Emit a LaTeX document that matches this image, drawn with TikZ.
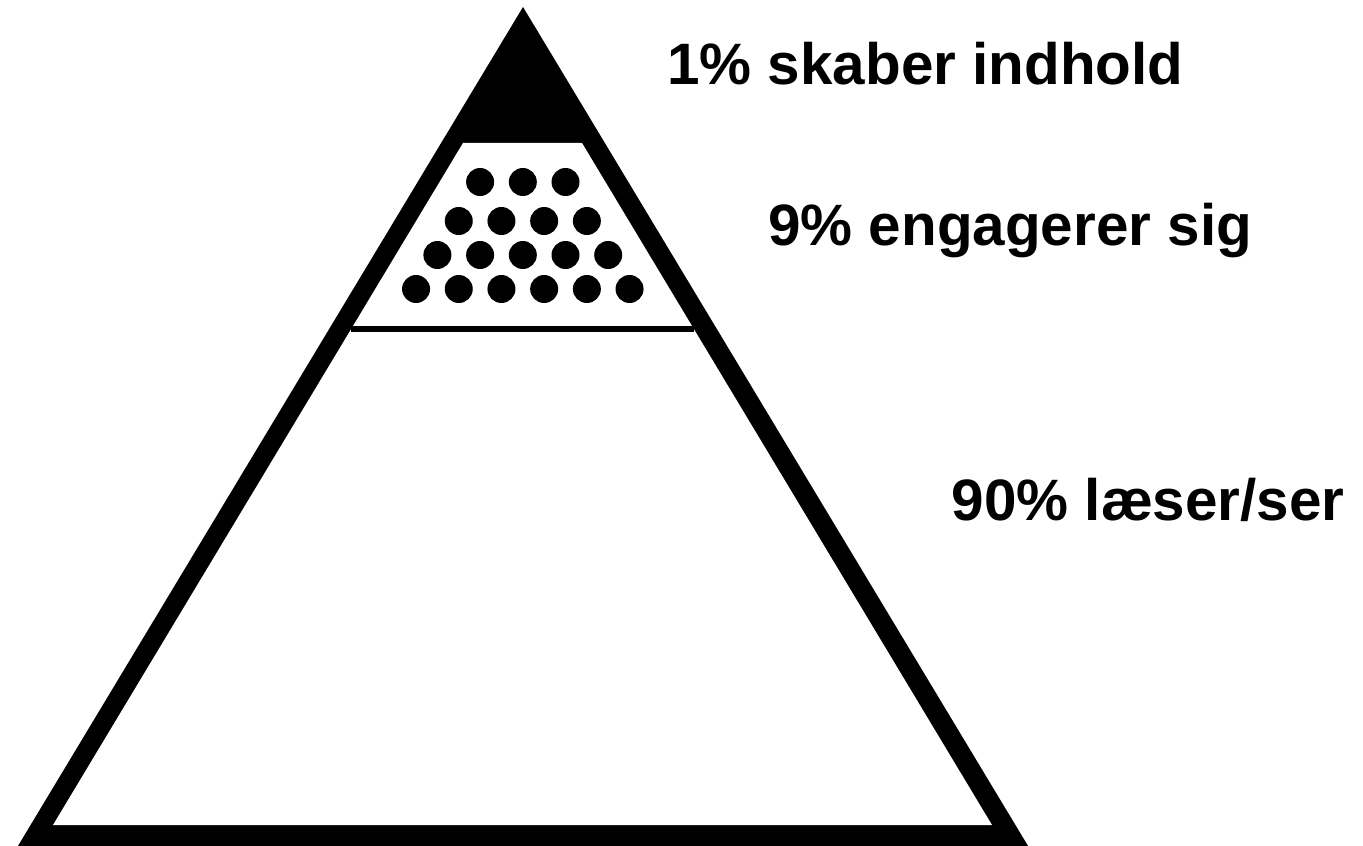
\documentclass[tikz,border=0pt]{standalone}
\usepackage{fontspec}
\setmainfont{Liberation Sans}
\tikzset{
  label/.style={inner sep=0pt, font=\fontsize{29.2pt}{35pt}\selectfont\bfseries},
  dot/.style={fill=black}
}
\begin{document}
\begin{tikzpicture}[x=0.5pt,y=-0.5pt]
      \useasboundingbox (0,0) rectangle (1363,845);
      \clip (0,0) rectangle (1363,845);
      % pyramid: black outline and tip
      \fill (523,7) -- (3.5,870) -- (1042.5,870) -- cycle;
      \fill[white] (463,143) -- (582,143) -- (992,825) -- (53,825) -- cycle;
      \draw[line width=3pt] (351,329) -- (694,329);
      % dots
      \foreach \n/\y in {3/182,4/221,5/255,6/289}
        \foreach \k in {1,...,\n}
          \fill[dot] ({522.8+42.7*(\k-(\n+1)/2)},\y) circle [radius=7pt];
      \draw
        (667,85) node[label, anchor=base west] (1){1\% skaber indhold}
        (768,245) node[label, anchor=base west] (9){9\% engagerer sig}
        (1345,520) node[label, anchor=base east] (90){90\% læser/ser};
    \end{tikzpicture}
\end{document}
